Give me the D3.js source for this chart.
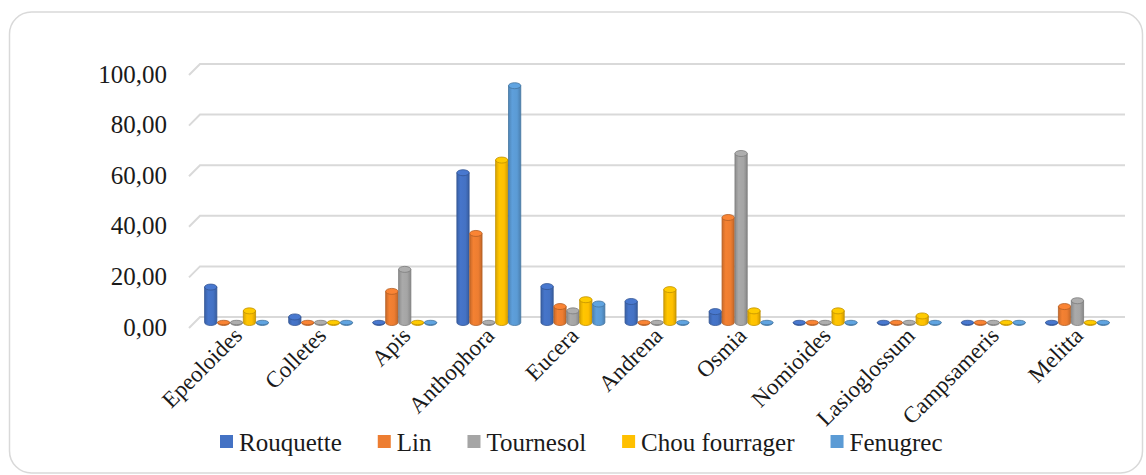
<!DOCTYPE html>
<html>
<head>
<meta charset="utf-8">
<script src="https://cdn.jsdelivr.net/npm/d3@7/dist/d3.min.js"></script>
<style>
  html, body { margin: 0; padding: 0; background: #fff; }
  svg { display: block; }
  text { font-family: "Liberation Serif", "Times New Roman", serif; fill: #1a1a1a; }
</style>
</head>
<body>
<svg id="chart" width="1146" height="475"></svg>
<script>
// Bee genera observed on each crop
const categories = ["Epeoloides", "Colletes", "Apis", "Anthophora", "Eucera", "Andrena",
                    "Osmia", "Nomioides", "Lasioglossum", "Campsameris", "Melitta"];
const seriesNames = ["Rouquette", "Lin", "Tournesol", "Chou fourrager", "Fenugrec"];
const rouquette     = [14.0, 2.2, 0, 59.2, 14.2, 8.3, 4.3, 0, 0, 0, 0];
const lin           = [0, 0, 12.3, 35.2, 6.3, 0, 41.5, 0, 0, 0, 6.3];
const tournesol     = [0, 0, 21.0, 0, 4.6, 0, 66.8, 0, 0, 0, 8.6];
const chouFourrager = [4.6, 0, 0, 64.2, 9.0, 13.0, 4.6, 4.6, 2.6, 0, 0];
const fenugrec      = [0, 0, 0, 93.6, 7.3, 0, 0, 0, 0, 0, 0];
const yTicks = [0, 20, 40, 60, 80, 100];
const seriesColors = ["#4472C4", "#ED7D31", "#A5A5A5", "#FFC000", "#5B9BD5"];

const seriesValues = [rouquette, lin, tournesol, chouFourrager, fenugrec];
const fmt = v => d3.format(".2f")(v).replace(".", ",");

const svg = d3.select("#chart");
const defs = svg.append("defs");

// Outer frame
svg.append("rect")
  .attr("x", 9.5).attr("y", 12).attr("width", 1133).attr("height", 461)
  .attr("rx", 22).attr("ry", 22)
  .attr("fill", "#fff").attr("stroke", "#d9d9d9").attr("stroke-width", 1.5);

// Back wall scales and 3D depth offset (front plane sits down-left of the wall)
const depth = 11;
const x = d3.scaleBand().domain(categories).range([200, 1125])
  .paddingInner(0.24).paddingOuter(0.12);
const xs = d3.scaleBand().domain(seriesNames).range([0, x.bandwidth()]).paddingInner(0.05);
const y = d3.scaleLinear().domain([0, 100]).range([317, 64]);

// Gridlines on the back wall with the short diagonal along the side wall
const grid = svg.append("g");
yTicks.forEach(t => {
  grid.append("path")
    .attr("d", `M${x.range()[0] - depth},${y(t) + depth} L${x.range()[0]},${y(t)} L${x.range()[1]},${y(t)}`)
    .attr("fill", "none").attr("stroke", "#d9d9d9").attr("stroke-width", 2);
  svg.append("text")
    .attr("x", 167).attr("y", y(t) + 10)
    .attr("text-anchor", "end").attr("dominant-baseline", "central")
    .attr("font-size", 25).text(fmt(t));
});

// Cylinder shading gradients per series
seriesColors.forEach((c, i) => {
  const base = d3.color(c);
  const g = defs.append("linearGradient").attr("id", "side" + i)
    .attr("x1", "0%").attr("x2", "100%").attr("y1", "0%").attr("y2", "0%");
  g.append("stop").attr("offset", "0%").attr("stop-color", base.darker(0.45));
  g.append("stop").attr("offset", "30%").attr("stop-color", base.brighter(0.08));
  g.append("stop").attr("offset", "70%").attr("stop-color", base);
  g.append("stop").attr("offset", "100%").attr("stop-color", base.darker(0.55));
});

// Bars drawn as cylinders at mid depth
const half = depth / 2;
const ry = 3;
const bars = svg.append("g");
categories.forEach((cat, ci) => {
  seriesNames.forEach((s, si) => {
    const v = seriesValues[si][ci];
    const bx = x(cat) + xs(s) - half;
    const w = xs.bandwidth();
    const cx = bx + w / 2;
    const yb = y(0) + half;
    const yt = y(v) + half;
    const col = d3.color(seriesColors[si]);
    const g = bars.append("g");
    g.append("path")
      .attr("d", `M${bx},${yt} L${bx},${yb} A${w / 2},${ry} 0 0 0 ${bx + w},${yb} L${bx + w},${yt} Z`)
      .attr("fill", `url(#side${si})`)
      .attr("stroke", col.darker(0.8)).attr("stroke-width", 0.8);
    g.append("ellipse")
      .attr("cx", cx).attr("cy", yt).attr("rx", w / 2).attr("ry", v > 0 ? ry : 2.2)
      .attr("fill", col.brighter(0.15))
      .attr("stroke", col.darker(0.8)).attr("stroke-width", 0.8);
  });
});

// Category labels, rotated
categories.forEach(cat => {
  const cx = x(cat) + x.bandwidth() / 2 - half;
  svg.append("text")
    .attr("transform", `translate(${cx + 7},${337}) rotate(-45)`)
    .attr("text-anchor", "end")
    .attr("font-size", 23).text(cat);
});

// Legend
const legend = svg.append("g");
let lx = 220;
seriesNames.forEach((s, i) => {
  legend.append("rect").attr("x", lx).attr("y", 435).attr("width", 13).attr("height", 13)
    .attr("fill", seriesColors[i]);
  const t = legend.append("text").attr("x", lx + 19).attr("y", 451)
    .attr("font-size", 25).text(s);
  lx += 19 + t.node().getComputedTextLength() + 36;
});
</script>
</body>
</html>
